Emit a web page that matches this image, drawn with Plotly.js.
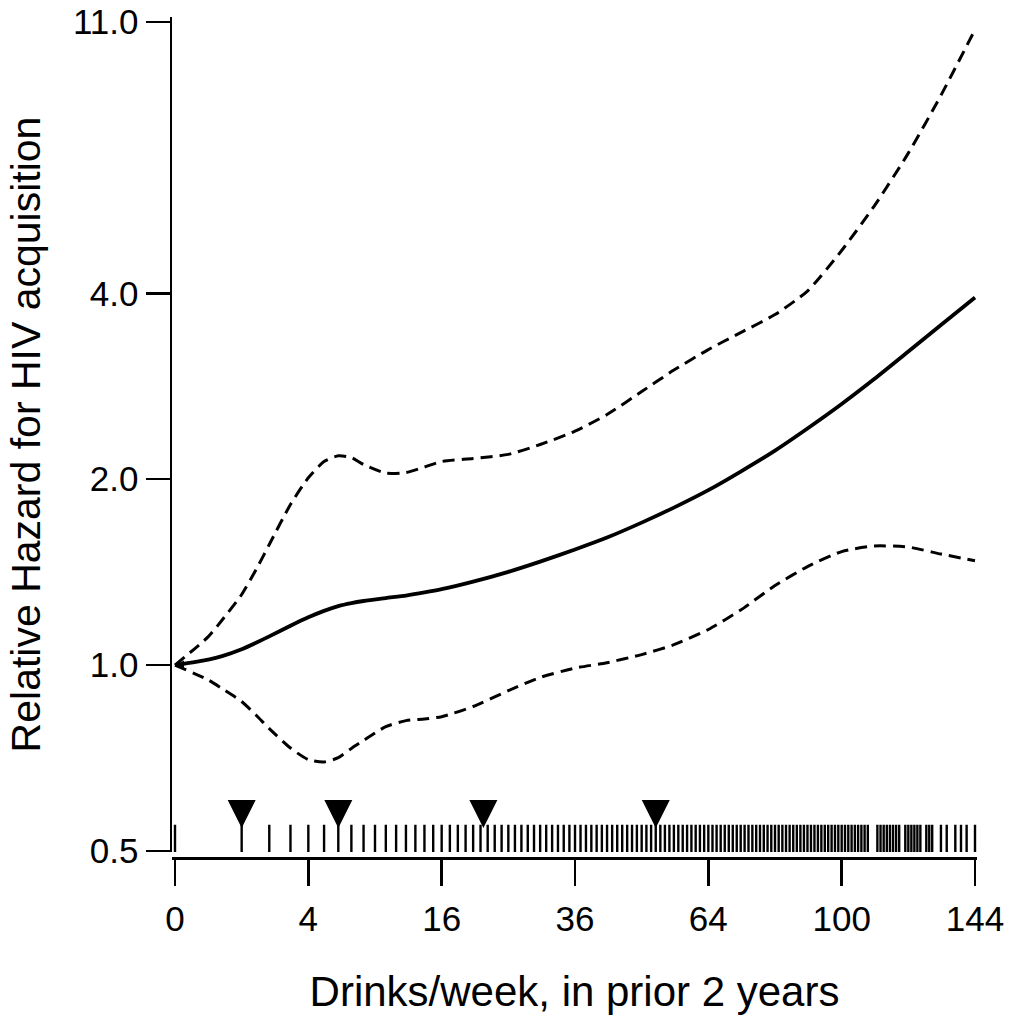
<!DOCTYPE html>
<html>
<head>
<meta charset="utf-8">
<script src="https://cdn.plot.ly/plotly-3.0.1.min.js"></script>
<style>html,body{margin:0;padding:0;background:#fff;}#chart{width:1014px;height:1015px;}</style>
</head>
<body>
<div id="chart"></div>
<script>
const drinks = [0,0.25,0.5,1,1.5,2,3,4,5,6,7,8,10,12,14,16,20,25,30,36,42,49,56,64,72,81,90,100,110,121,132,144];
// Relative hazard estimate (solid line)
const hrEstimate = [1.000,1.021,1.034,1.061,1.088,1.113,1.158,1.195,1.224,1.246,1.260,1.270,1.284,1.296,1.311,1.327,1.365,1.416,1.471,1.539,1.609,1.701,1.799,1.920,2.058,2.225,2.416,2.647,2.905,3.219,3.553,3.937];
// Upper 95% confidence bound (dashed)
const hrUpper = [1.000,1.112,1.183,1.301,1.433,1.568,1.820,2.011,2.136,2.182,2.168,2.112,2.046,2.050,2.093,2.136,2.161,2.194,2.276,2.392,2.545,2.773,3.004,3.243,3.455,3.695,4.034,4.692,5.537,6.746,8.368,10.69];
// Lower 95% confidence bound (dashed)
const hrLower = [1.000,0.946,0.916,0.873,0.828,0.789,0.734,0.703,0.697,0.708,0.733,0.755,0.795,0.813,0.818,0.825,0.857,0.909,0.955,0.989,1.009,1.040,1.079,1.142,1.228,1.345,1.444,1.527,1.559,1.553,1.513,1.476];
// Observed exposure values (rug)
const rugDrinks = [0,1,2,3,4,5,6,7,8,9,10,11,12,13,14,15,16,17,18,19,20,21,22,23,24,25,26,27,28,29,30,31,32,33,34,35,36,37,38,39,40,41,42,43,44,45,46,47,48,49,50,51,52,53,54,55,56,57,58,59,60,61,62,63,64,65,66,67,68,69,70,71,72,73,74,75,76,77,78,79,80,81,82,83,84,85,86,87,88,89,90,91,92,93,94,95,96,97,98,99,100,101,102,103,104,105,106,107,108,111,112,113,114,115,116,117,118,120,121,122,123,124,125,127,128,129,132,134,137,139,141,144];
// Quantile markers (triangles)
const quantileDrinks = [1, 6, 21.4, 52];
// Axis ticks
const xTickDrinks = [0, 4, 16, 36, 64, 100, 144];
const yTickValues = [0.5, 1, 2, 4, 11];
const yTickLabels = ["0.5", "1.0", "2.0", "4.0", "11.0"];

const rugLevel = 0.522;       // vertical placement of rug ticks (in HR units)
const quantileLevel = 0.5447; // triangle tips sit on top of the rug

const sq = a => a.map(Math.sqrt);
const tickFont = {family: '"Liberation Sans", Arial, sans-serif', size: 35, color: '#000'};
const titleFont = {family: '"Liberation Sans", Arial, sans-serif', size: 42, color: '#000'};

const traces = [
  {x: sq(rugDrinks), y: rugDrinks.map(() => rugLevel), mode: 'markers', type: 'scatter',
   marker: {symbol: 'line-ns', size: 21, color: '#000', line: {color: '#000', width: 2.4}}},
  {x: sq(quantileDrinks), y: quantileDrinks.map(() => quantileLevel), mode: 'markers', type: 'scatter',
   marker: {symbol: 'arrow-down', size: 28, color: '#000', line: {width: 0}}},
  {x: sq(drinks), y: hrUpper, mode: 'lines', type: 'scatter',
   line: {color: '#000', width: 3, dash: '12px,7px', shape: 'spline', smoothing: 0.6}},
  {x: sq(drinks), y: hrLower, mode: 'lines', type: 'scatter',
   line: {color: '#000', width: 3, dash: '12px,7px', shape: 'spline', smoothing: 0.6}},
  {x: sq(drinks), y: hrEstimate, mode: 'lines', type: 'scatter',
   line: {color: '#000', width: 3.8, shape: 'spline', smoothing: 0.6}},
  {x: [Math.sqrt(drinks[0])], y: [hrEstimate[0]], mode: 'markers', type: 'scatter',
   marker: {symbol: 'arrow-left', size: 9, color: '#000', line: {width: 0}}}
];

const layout = {
  width: 1014, height: 1015,
  margin: {l: 172, r: 37, t: 17, b: 157},
  paper_bgcolor: '#fff', plot_bgcolor: '#fff',
  showlegend: false,
  xaxis: {
    range: [-0.045, 12.03], anchor: 'free', position: 0,
    showline: true, linewidth: 2.5, linecolor: '#000',
    ticks: 'outside', ticklen: 26, tickwidth: 2.5, tickcolor: '#000',
    tickvals: sq(xTickDrinks), ticktext: xTickDrinks.map(String),
    tickfont: tickFont, ticklabelstandoff: 3,
    showgrid: false, zeroline: false,
    title: {text: 'Drinks/week, in prior 2 years', font: titleFont, standoff: 40}
  },
  yaxis: {
    type: 'log', range: [-0.30265, 1.04949], domain: [6/841, 1],
    showline: true, linewidth: 2.5, linecolor: '#000',
    ticks: 'outside', ticklen: 24, tickwidth: 2.5, tickcolor: '#000',
    tickvals: yTickValues, ticktext: yTickLabels,
    tickfont: tickFont,
    showgrid: false, zeroline: false,
    title: {text: 'Relative Hazard for HIV acquisition', font: {family: titleFont.family, size: 41, color: '#000'}, standoff: 20}
  }
};

Plotly.newPlot('chart', traces, layout, {displayModeBar: false, staticPlot: true});
</script>
</body>
</html>
